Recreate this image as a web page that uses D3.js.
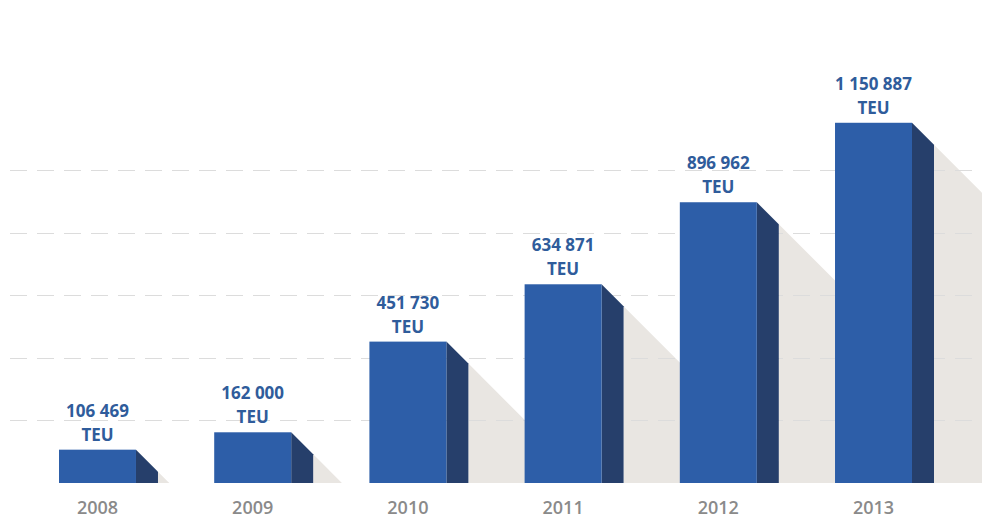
<!DOCTYPE html>
<html>
<head>
<meta charset="utf-8">
<script src="https://cdn.jsdelivr.net/npm/d3@7"></script>
<style>
html,body{margin:0;padding:0;background:#fff;}
svg{display:block;}
</style>
</head>
<body>
<svg id="chart" width="982" height="530"></svg>
<script>
const years = ["2008","2009","2010","2011","2012","2013"];
const values = [106469, 162000, 451730, 634871, 896962, 1150887];
const valueLabels = ["106 469","162 000","451 730","634 871","896 962","1 150 887"];
const unitLabel = "TEU";
const gridValues = [200000, 400000, 600000, 800000, 1000000];

const W = 982, H = 530;
const baseY = 483;
const svg = d3.select("#chart");

const x = d3.scaleBand().domain(years).range([59, 912]).paddingInner(0.504).paddingOuter(0);
const y = d3.scaleLinear().domain([0, 1000000]).range([baseY, 170]);

const side = 22;
const data = years.map((yr, i) => ({yr, v: values[i], lbl: valueLabels[i]}));

// shadows
const shadowG = svg.append("g");
data.forEach(d => {
  const xr = x(d.yr) + x.bandwidth() + side;
  const top = y(d.v) + side;
  const len = baseY - top;
  shadowG.append("path")
    .attr("d", `M${xr},${top} L${xr + len},${baseY} L${xr},${baseY} Z`)
    .attr("fill", "#e9e6e2");
});

// gridlines
svg.append("g").selectAll("line").data(gridValues).join("line")
  .attr("x1", 10).attr("x2", W)
  .attr("y1", d => Math.round(y(d)) + 0.5).attr("y2", d => Math.round(y(d)) + 0.5)
  .attr("stroke", "#dcdcdc").attr("stroke-width", 1.2)
  .attr("stroke-dasharray", "17,10");

// bars
const barG = svg.append("g");
data.forEach(d => {
  const x0 = x(d.yr), bw = x.bandwidth(), top = y(d.v);
  barG.append("path")
    .attr("d", `M${x0 + bw},${top} L${x0 + bw + side},${top + side} L${x0 + bw + side},${baseY} L${x0 + bw},${baseY} Z`)
    .attr("fill", "#263f6b");
  barG.append("rect")
    .attr("x", x0).attr("y", top).attr("width", bw).attr("height", baseY - top)
    .attr("fill", "#2d5ea8");
});

// value labels
const lblG = svg.append("g")
  .attr("font-family", "'Open Sans', sans-serif")
  .attr("font-weight", 700).attr("font-size", 17)
  .attr("fill", "#2f5c9b").attr("text-anchor", "middle");
data.forEach(d => {
  const cx = x(d.yr) + x.bandwidth() / 2, top = y(d.v);
  lblG.append("text").attr("x", cx).attr("y", top - 33).text(d.lbl);
  lblG.append("text").attr("x", cx).attr("y", top - 9).text(unitLabel);
});

// year labels
svg.append("g").selectAll("text").data(years).join("text")
  .attr("x", d => x(d) + x.bandwidth() / 2)
  .attr("y", 514)
  .attr("text-anchor", "middle")
  .attr("font-family", "'Open Sans', sans-serif")
  .attr("font-weight", 600).attr("font-size", 18)
  .attr("fill", "#8a8a8a")
  .text(d => d);
</script>
</body>
</html>
